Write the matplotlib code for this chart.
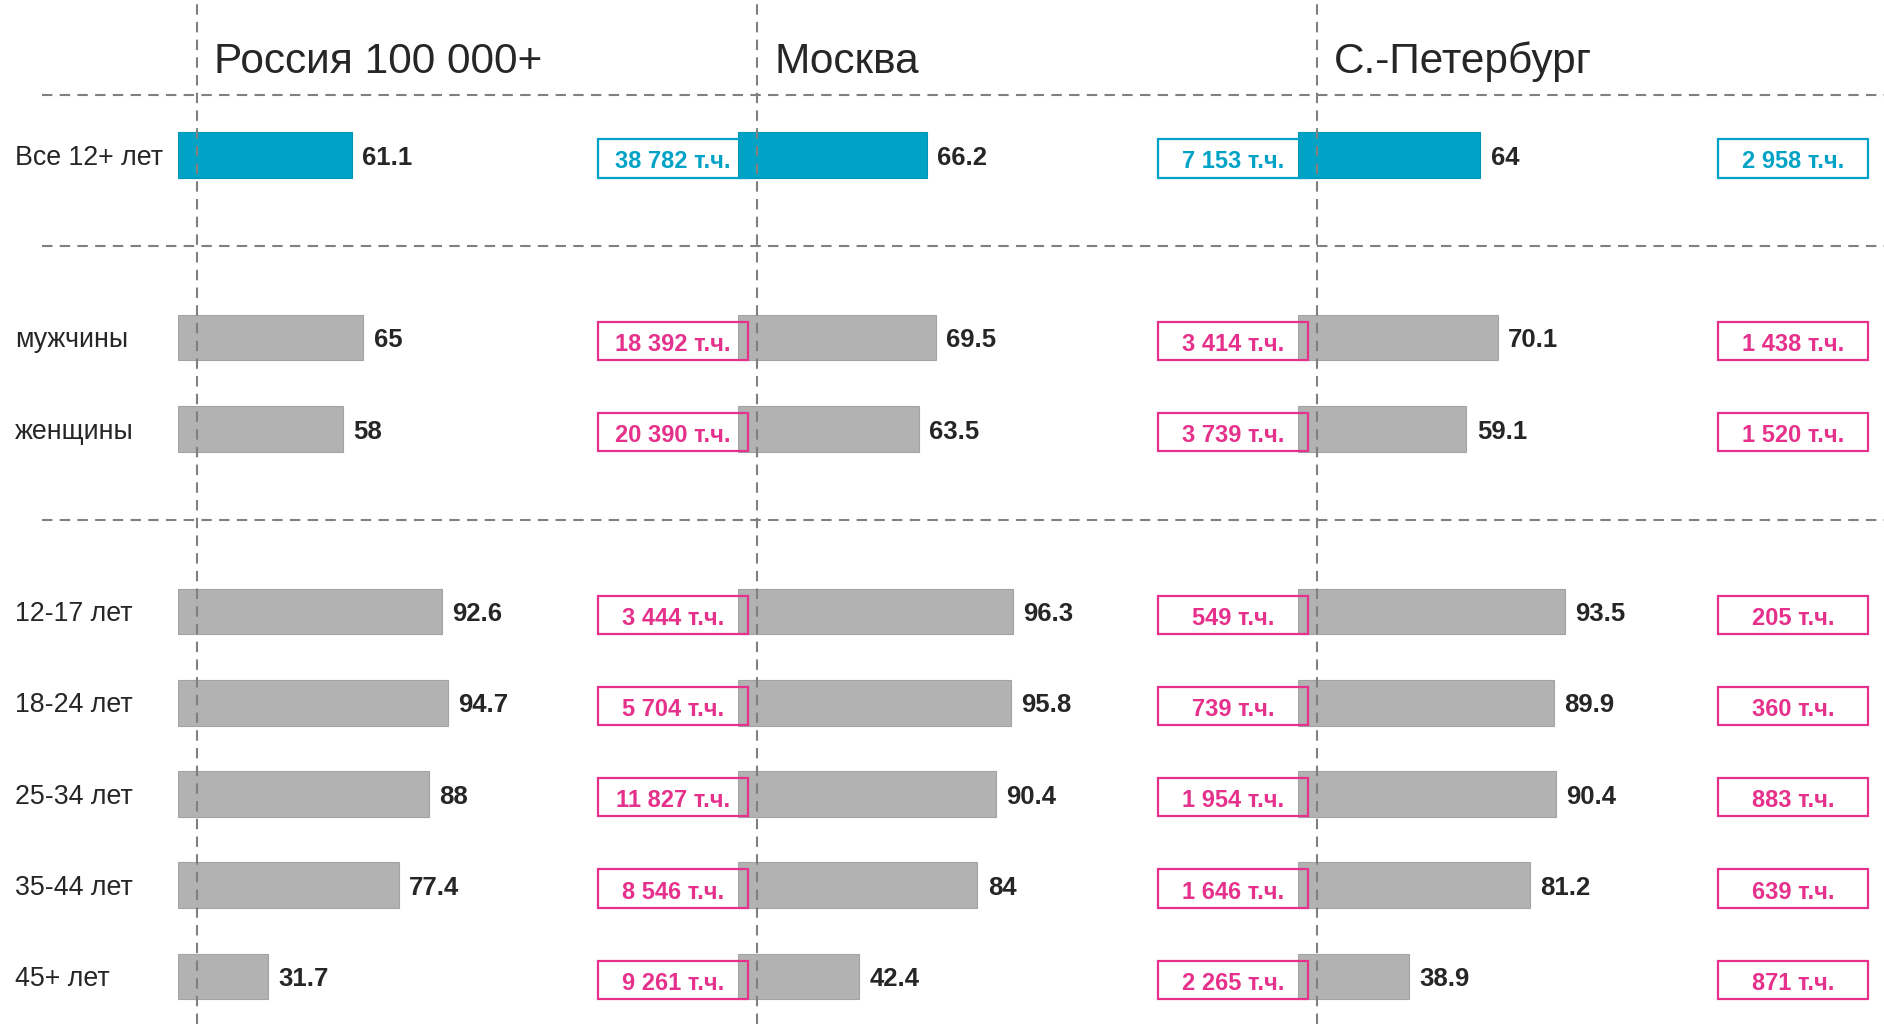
import numpy as np
import matplotlib
matplotlib.use("Agg")
import matplotlib.pyplot as plt
from matplotlib.patches import Rectangle

plt.rcParams['font.family'] = ['Liberation Sans', 'DejaVu Sans']

# data
rows = ["Все 12+ лет", "мужчины", "женщины", "12-17 лет", "18-24 лет",
        "25-34 лет", "35-44 лет", "45+ лет"]
row_pos = [0, 2, 3, 5, 6, 7, 8, 9]
cities = ["Россия 100 000+", "Москва", "С.-Петербург"]

russia = [61.1, 65, 58, 92.6, 94.7, 88, 77.4, 31.7]
moscow = [66.2, 69.5, 63.5, 96.3, 95.8, 90.4, 84, 42.4]
spb = [64, 70.1, 59.1, 93.5, 89.9, 90.4, 81.2, 38.9]

russia_cnt = ["38 782", "18 392", "20 390", "3 444", "5 704", "11 827", "8 546", "9 261"]
moscow_cnt = ["7 153", "3 414", "3 739", "549", "739", "1 954", "1 646", "2 265"]
spb_cnt = ["2 958", "1 438", "1 520", "205", "360", "883", "639", "871"]

values = [russia, moscow, spb]
counts = [russia_cnt, moscow_cnt, spb_cnt]

# colours
cyan = "#00a3c6"
gray = "#b2b2b2"
pink = "#e5318b"
dark = "#262626"
dash_col = "#808080"

W, H = 1884, 1024
fig = plt.figure(figsize=(W / 100, H / 100), dpi=100)

ylim = (9.52, -1.70)
px_per_unit = 2.851
panel_px = 560
dy = 0.03  # small downward nudge for text

# background axes for separators and row labels
bg = fig.add_axes([0, 0, 1, 1])
bg.set_xlim(0, 1)
bg.set_ylim(*ylim)
bg.axis("off")
for y in [-0.66, 1, 4]:
    bg.hlines(y, 42 / W, 1, colors=dash_col, linestyles=(0, (5, 3.5)), lw=1.5)
for r, y in zip(rows, row_pos):
    bg.text(15 / W, y + dy, r, fontsize=19.3, color=dark, va="center", ha="left")

xmax = panel_px / px_per_unit
for i, (city, vals, cnts) in enumerate(zip(cities, values, counts)):
    left = (178 + i * panel_px) / W
    ax = fig.add_axes([left, 0, panel_px / W, 1], zorder=10 - i)
    ax.set_xlim(0, xmax)
    ax.set_ylim(*ylim)
    ax.axis("off")
    ax.patch.set_visible(False)

    colors = [cyan] + [gray] * (len(vals) - 1)
    edges = ["#0095b5"] + ["#a3a3a3"] * (len(vals) - 1)
    ax.barh(row_pos, vals, height=0.5, color=colors, edgecolor=edges, lw=0.8, zorder=2)
    ax.axvline(19 / px_per_unit, color=dash_col, ls=(0, (5, 3.5)), lw=1.5, zorder=3)

    ax.text(36 / px_per_unit, -1.02, city, fontsize=30.5, color=dark, va="center", ha="left")

    bx0 = 420 / px_per_unit
    bw = 150 / px_per_unit
    for v, c, y, col in zip(vals, cnts, row_pos, colors):
        ax.text(v + 3.6, y + dy, f"{v:g}", fontsize=18.5, fontweight="bold", color=dark,
                va="center", ha="left")
        box_col = cyan if col == cyan else pink
        ax.add_patch(Rectangle((bx0, y - 0.21 + 0.035), bw, 0.42, facecolor="none",
                               edgecolor=box_col, lw=1.6, clip_on=False, zorder=5))
        ax.text(bx0 + bw / 2, y + 0.075, f"{c} т.ч.", fontsize=17, fontweight="bold",
                color=box_col, va="center", ha="center", clip_on=False, zorder=6)

fig.savefig("out.png", dpi=100, facecolor="white")
